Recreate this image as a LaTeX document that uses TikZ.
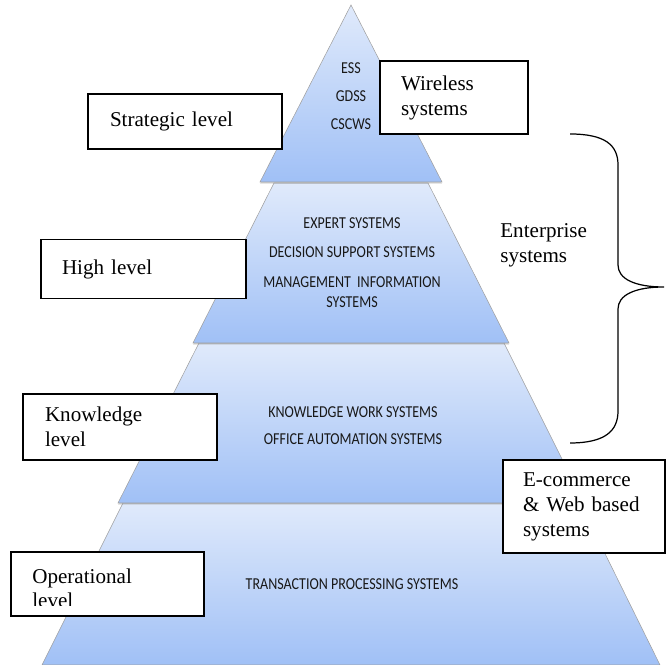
\documentclass[tikz,border=0pt]{standalone}
\usepackage{fontspec}
\setmainfont{Liberation Serif}
\newfontfamily\layerfont[FakeStretch=0.84]{Carlito}
\usepackage{tikz}
\usetikzlibrary{positioning,shadows}
\definecolor{lyrtop}{RGB}{224,234,251}
\definecolor{lyrbot}{RGB}{160,192,246}

\begin{document}
\begin{tikzpicture}[x=0.02cm,y=0.02cm,
  layer/.style={draw=gray!75,line width=0.3pt,top color=lyrtop,bottom color=lyrbot,
    drop shadow={shadow xshift=0pt,shadow yshift=-1pt,opacity=0.3}},
  sys/.style={font=\layerfont\fontsize{9.5}{11.3}\selectfont,text=black!90,align=center,inner sep=0pt},
  lvl/.style={draw,line width=0.8pt,fill=white,align=left,inner ysep=0pt,font=\fontsize{12}{14.2}\selectfont}]
  \useasboundingbox (0,0) rectangle (666,665);

  \path[layer] (123,162) -- (580,162) -- (660,0) -- (42,0) -- cycle;
  \path[layer] (199,322) -- (504,322) -- (584,162) -- (118,162) -- cycle;
  \path[layer] (274,482) -- (428,482) -- (509,322) -- (193,322) -- cycle;
  \path[layer] (351,660) -- (442,483) -- (260,483) -- cycle;

  \node[sys] (ess) at (351,597) {ESS};
  \node[sys] (gdss) [below=0.34cm of ess] {GDSS};
  \node[sys] (cscws) [below=0.32cm of gdss] {CSCWS};
  \node[sys] (es) at (352,442) {EXPERT SYSTEMS};
  \node[sys] (dss) [below=0.36cm of es] {DECISION SUPPORT SYSTEMS};
  \node[sys] (mis) [below=0.36cm of dss] {MANAGEMENT\ \ INFORMATION\\SYSTEMS};
  \node[sys] (kws) at (353,253) {KNOWLEDGE WORK SYSTEMS};
  \node[sys] (oas) [below=0.32cm of kws] {OFFICE AUTOMATION SYSTEMS};
  \node[sys] (tps) at (352,81) {TRANSACTION PROCESSING SYSTEMS};

  \node[lvl,minimum width=3.88cm,minimum height=1.1cm,inner xsep=0.44cm,text width=3cm] (strat) at (185,543.5) {Strategic level};
  \node[lvl,minimum width=2.96cm,minimum height=1.46cm,inner xsep=0.42cm,text width=2.12cm] (wless) at (454,567.5) {Wireless\\systems};
  \node[lvl,minimum width=4.1cm,minimum height=1.18cm,inner xsep=0.42cm,text width=3.26cm] (high) at (143.5,396) {High level};
  \node[lvl,minimum width=3.88cm,minimum height=1.32cm,inner xsep=0.44cm,text width=3cm] (know) at (120,238) {Knowledge\\level};
  \node[lvl,minimum width=3.24cm,minimum height=1.86cm,inner xsep=0.4cm,text width=2.44cm] (ecom) at (584,158.5) {E-commerce\\\& Web based\\systems};
  \node[lvl,minimum width=3.86cm,minimum height=1.28cm] (opbox) at (107.5,81) {};
  \begin{scope}
    \clip (opbox.south west) ++(0,11) rectangle (opbox.north east);
    \node[font=\fontsize{12}{13.6}\selectfont,align=left,inner sep=0pt,anchor=north west] (op) at (32,96.5) {Operational\\level};
  \end{scope}

  \node[font=\fontsize{12}{14.2}\selectfont,align=left,inner sep=0pt,anchor=west] (ent) at (500,420) {Enterprise\\systems};
  \draw[line width=0.7pt] (570,531) .. controls (605,531) and (618,520) .. (618,500) -- (618,400)
    .. controls (618,386) and (635,378) .. (664,378)
    .. controls (635,378) and (618,370) .. (618,356) -- (618,254)
    .. controls (618,234) and (605,222) .. (570,222);
\end{tikzpicture}
\end{document}
